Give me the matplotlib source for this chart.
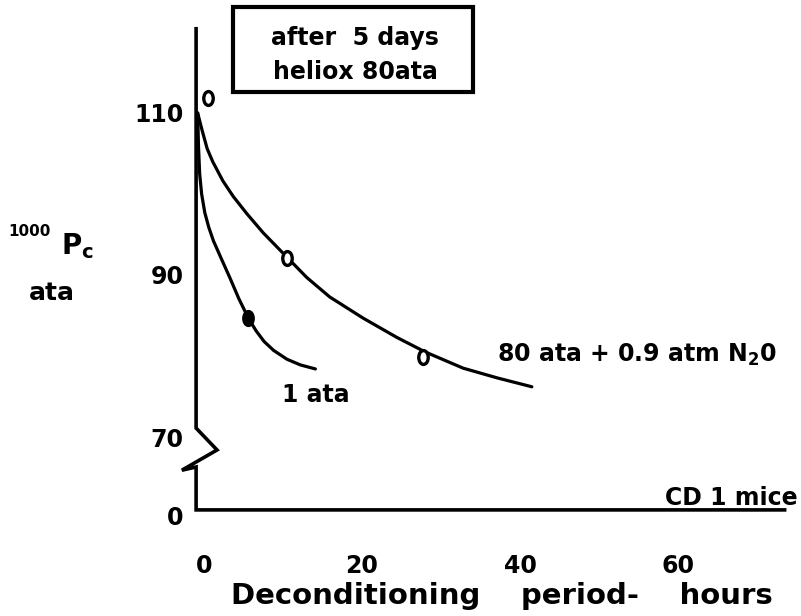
import numpy as np
import matplotlib
matplotlib.use('Agg')
import matplotlib.pyplot as plt
from matplotlib.path import Path
from matplotlib.transforms import Affine2D
from matplotlib.patches import Rectangle

plt.rcParams['font.family'] = 'DejaVu Sans'
plt.rcParams['font.weight'] = 'bold'
plt.rcParams['mathtext.fontset'] = 'dejavusans'

# curves (hours, 1000 Pc in ata)
n2o_h = [-0.8, -0.25, 0.4, 1.1, 2.4, 3.7, 5.4, 7.5, 9.6, 13.0, 15.9, 20.1,
         24.4, 28.0, 32.8, 37.1, 41.5]
n2o_v = [110.0, 107.9, 105.6, 104.0, 101.6, 99.7, 97.6, 95.2, 93.1, 89.7, 87.3,
         84.7, 82.3, 80.5, 78.5, 77.3, 76.2]
one_h = [-0.8, -0.7, -0.55, -0.3, 0.1, 0.6, 1.2, 2.2, 3.3, 4.4, 5.6, 6.6, 7.6,
         8.8, 10.5, 12.2, 14.1]
one_v = [110.0, 106.0, 102.5, 100.0, 97.7, 95.9, 94.2, 92.0, 89.6, 87.1, 84.7,
         83.1, 81.8, 80.7, 79.6, 78.9, 78.4]

# measured points
n2o_pts_h = [0.5, 10.5, 27.7]
n2o_pts_v = [111.9, 92.1, 79.9]
one_pts_h = [5.6]
one_pts_v = [84.7]

xticks = [0, 20, 40, 60]
xticklabels = ['0', '20', '40', '60']
yticks = [60.3, 70, 90, 110]
yticklabels = ['0', '70', '90', '110']

W, H = 801, 616
fig = plt.figure(figsize=(W / 100, H / 100), dpi=100)
ax = fig.add_axes([0.24482, 0.15909, 0.73477, 0.79554])
ax.set_xlim(-1, 73.5)
ax.set_ylim(60, 120.5)
for s in ax.spines.values():
    s.set_visible(False)

# axes drawn by hand (broken y axis)
ax.plot([-1, -1, 1.65, -2.8, -1, -1, 73.5],
        [120.4, 71.1, 68.4, 65.9, 66.3, 61.0, 61.0],
        color='black', lw=2.6, clip_on=False, solid_joinstyle='miter')

ax.plot(n2o_h, n2o_v, color='black', lw=2.3, solid_joinstyle='round', solid_capstyle='round')
ax.plot(one_h, one_v, color='black', lw=2.3, solid_joinstyle='round', solid_capstyle='round')

oval = Path.unit_circle().transformed(Affine2D().scale(0.68, 1.0))
ax.plot(n2o_pts_h, n2o_pts_v, ls='none', marker=oval, ms=10,
        mfc='white', mec='black', mew=2.4, clip_on=False)
ax.plot(one_pts_h, one_pts_v, ls='none', marker=oval, ms=10,
        mfc='black', mec='black', mew=2.4)

ax.set_xticks(xticks)
ax.set_xticklabels(xticklabels, fontsize=17, fontweight='bold')
ax.set_yticks(yticks)
ax.set_yticklabels(yticklabels, fontsize=17, fontweight='bold')
ax.tick_params(axis='x', length=0, pad=26)
ax.tick_params(axis='y', length=0, pad=9)

ax.text(37.1, 80.1, r'80 ata + 0.9 atm N$_{\mathbf{2}}$0', fontsize=17,
        fontweight='bold', ha='left', va='center')
ax.text(14.2, 75.2, '1 ata', fontsize=17, fontweight='bold', ha='center', va='center')
ax.text(75.1, 61.6, 'CD 1 mice', fontsize=17, fontweight='bold',
        ha='right', va='baseline', clip_on=False)


def fx(x):
    return x / W


def fy(y):
    return 1 - y / H


# y axis label
fig.text(fx(30), fy(232), '1000', fontsize=11, fontweight='bold', ha='center', va='center')
fig.text(fx(77), fy(246), r'$\mathbf{P}_{\mathbf{c}}$', fontsize=20, ha='center', va='center')
fig.text(fx(52), fy(293), 'ata', fontsize=18, fontweight='bold', ha='center', va='center')

# x axis label
fig.text(fx(502), fy(596), 'Deconditioning    period-    hours', fontsize=21,
         fontweight='heavy', ha='center', va='center')

# boxed note
fig.patches.append(Rectangle((fx(233), fy(92)), fx(473) - fx(233), fy(7) - fy(92),
                             transform=fig.transFigure, fill=False,
                             edgecolor='black', lw=3))
fig.text(fx(355), fy(38), 'after  5 days', fontsize=17, fontweight='bold',
         ha='center', va='center')
fig.text(fx(355), fy(72), 'heliox 80ata', fontsize=17, fontweight='bold',
         ha='center', va='center')

fig.savefig('out.png', dpi=100)
